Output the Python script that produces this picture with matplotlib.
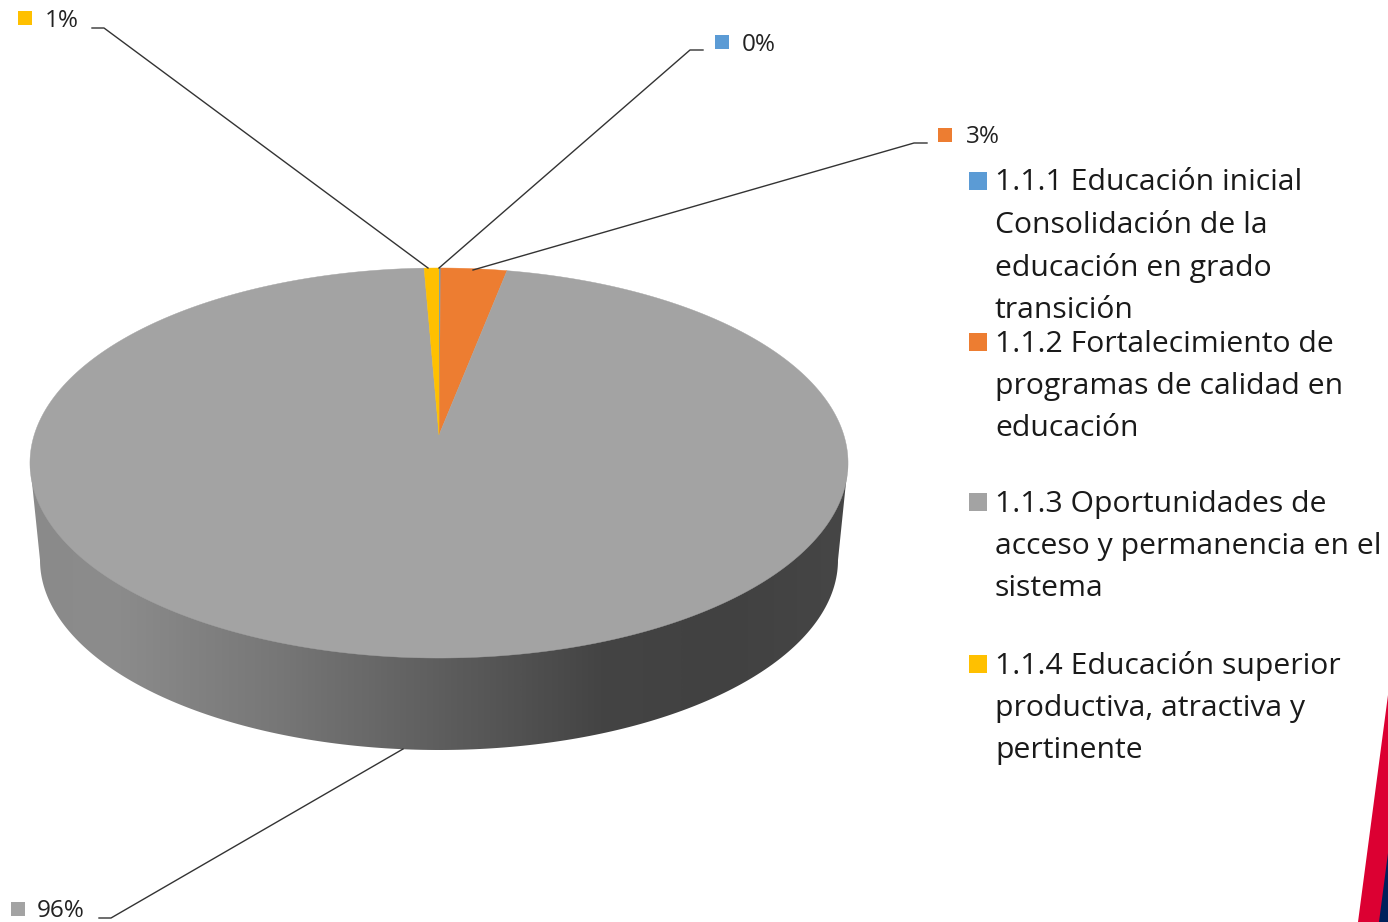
import numpy as np
import matplotlib
matplotlib.use('Agg')
import matplotlib.pyplot as plt
from matplotlib.colors import LinearSegmentedColormap
from matplotlib.patches import Polygon

plt.rcParams['font.family'] = ['Open Sans', 'DejaVu Sans']

# Data
shares = [0.08, 2.99, 96.26, 0.67]
pct_labels = ['0%', '3%', '96%', '1%']
colors = ['#5B9BD5', '#ED7D31', '#A3A3A3', '#FFC000']
legend_lines = [
    ['1.1.1 Educación inicial', 'Consolidación de la', 'educación en grado', 'transición'],
    ['1.1.2 Fortalecimiento de', 'programas de calidad en', 'educación'],
    ['1.1.3 Oportunidades de', 'acceso y permanencia en el', 'sistema'],
    ['1.1.4 Educación superior', 'productiva, atractiva y', 'pertinente'],
]
legend_y = [183, 344, 504, 666]

# Layout, in picture pixels
W, H = 1388, 922
apex_x, apex_y = 439, 435
persp = -0.1436
scale_x, scale_y = 404.8, 191
top_cy, top_rx, top_ry = 463, 409, 195
base_cy, base_rx, base_ry = 560, 399, 190

fig = plt.figure(figsize=(W / 100, H / 100), dpi=100)
ax = fig.add_axes([0, 0, 1, 1])
ax.set_xlim(0, W)
ax.set_ylim(H, 0)
ax.axis('off')


def project(theta):
    # angle clockwise from the back of the disc -> screen position
    u, v = np.sin(theta), -np.cos(theta)
    d = 1 + persp * v
    return apex_x + scale_x * u / d, apex_y + scale_y * v / d


# Side of the cylinder with its horizontal shading
t = np.linspace(np.pi, 0, 200)
side_x = np.r_[439 - top_rx, 439 + base_rx * np.cos(t), 439 + top_rx]
side_y = np.r_[top_cy, base_cy + base_ry * np.sin(t), top_cy]
side = Polygon(np.c_[side_x, side_y], closed=True, fc='none', ec='none')
ax.add_patch(side)
shade = LinearSegmentedColormap.from_list('side', [
    (0.0, '#8A8A8A'), (0.1, '#8C8C8C'), (0.3, '#777777'), (0.5, '#5E5E5E'),
    (0.7, '#444444'), (0.85, '#414141'), (1.0, '#464646')])
img = ax.imshow(np.linspace(0, 1, 400)[None, :], cmap=shade, aspect='auto',
                extent=[30, 848, 760, 460], zorder=1)
img.set_clip_path(side)
ax.set_xlim(0, W)
ax.set_ylim(H, 0)

# Top of the pie
start = 0.0
for share, color in zip(shares, colors):
    end = start + share
    th = np.radians(np.linspace(start, end, 400) * 3.6)
    px, py = project(th)
    ax.fill(np.r_[apex_x, px], np.r_[apex_y, py], color=color, lw=0.3, zorder=2)
    start = end

# Leader lines and percentage labels
leaders = [
    ([703, 690, 439], [50, 50, 268]),
    ([927, 914, 473], [143, 143, 270]),
    ([99, 111, 403], [918, 918, 749]),
    ([92, 104, 428], [28, 28, 268]),
]
marker_xy = [(722, 42), (945, 135), (18, 909), (25, 18)]
text_xy = [(742, 45), (966, 137), (37, 911), (45, 21)]
for i in range(4):
    ax.plot(leaders[i][0], leaders[i][1], color='#333333', lw=1.0, zorder=3)
    ax.scatter(*marker_xy[i], marker='s', s=112, color=colors[i], lw=0, zorder=3)
    ax.text(*text_xy[i], pct_labels[i], fontsize=17.5, color='#222222', va='center', ha='left')

# Legend
for color, lines, y0 in zip(colors, legend_lines, legend_y):
    ax.scatter(978, y0 - 2, marker='s', s=187, color=color, lw=0, zorder=3)
    for k, line in enumerate(lines):
        ax.text(995, y0 + k * 42.4, line, fontsize=21.7, color='#1a1a1a', va='center', ha='left')

# Corner decoration
ax.add_patch(Polygon([(1388, 695), (1388, 922), (1358, 922)], closed=True, fc='#DC0032', ec='none', zorder=4))
ax.add_patch(Polygon([(1388, 853), (1388, 922), (1379, 922)], closed=True, fc='#00205B', ec='none', zorder=5))

fig.savefig('out.png', dpi=100, facecolor='white')
